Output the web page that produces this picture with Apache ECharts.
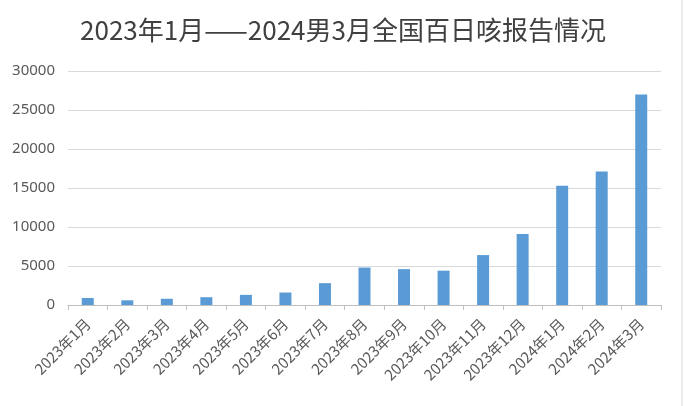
<!DOCTYPE html>
<html>
<head>
<meta charset="utf-8">
<script src="https://cdn.jsdelivr.net/npm/echarts@6/dist/echarts.min.js"></script>
<style>
  html, body { margin: 0; padding: 0; background: #fff; }
  #chart { width: 686px; height: 406px; }
</style>
</head>
<body>
<div id="chart"></div>
<script>
// 月份
var months = ['2023年1月', '2023年2月', '2023年3月', '2023年4月', '2023年5月', '2023年6月',
  '2023年7月', '2023年8月', '2023年9月', '2023年10月', '2023年11月', '2023年12月',
  '2024年1月', '2024年2月', '2024年3月'];
// 报告病例数
var cases = [900, 600, 800, 1000, 1300, 1600, 2800, 4800, 4600, 4400, 6400, 9100, 15300, 17100, 27000];
var yTicks = [0, 5000, 10000, 15000, 20000, 25000, 30000];

var myChart = echarts.init(document.getElementById('chart'));
var option = {
  animation: false,
  title: {
    text: '2023年1月——2024男3月全国百日咳报告情况',
    left: 'center',
    top: 12,
    textStyle: {
      fontFamily: 'Noto Sans CJK SC',
      fontSize: 26,
      fontWeight: 'normal',
      color: '#404040'
    }
  },
  grid: { left: 68, right: 25, top: 71, bottom: 101 },
  xAxis: {
    type: 'category',
    data: months,
    axisLine: { lineStyle: { color: '#bfbfbf' } },
    axisTick: { show: true, lineStyle: { color: '#bfbfbf' }, length: 5 },
    axisLabel: {
      rotate: 45,
      interval: 0,
      margin: 16,
      color: '#595959',
      fontSize: 15,
      fontFamily: 'Noto Sans CJK SC'
    }
  },
  yAxis: {
    type: 'value',
    min: yTicks[0],
    max: yTicks[yTicks.length - 1],
    interval: 5000,
    axisLine: { show: false },
    axisTick: { show: false },
    splitLine: { lineStyle: { color: '#d9d9d9', width: 1 } },
    axisLabel: {
      margin: 13,
      color: '#595959',
      fontSize: 15,
      fontFamily: 'Noto Sans',
      formatter: function (v) { return String(v); }
    }
  },
  graphic: [{
    type: 'line',
    shape: { x1: 682, y1: 0, x2: 682, y2: 406 },
    style: { stroke: '#d9d9d9', lineWidth: 1 }
  }],
  series: [{
    type: 'bar',
    data: cases,
    barWidth: 12,
    itemStyle: { color: '#5b9bd5' }
  }]
};
myChart.setOption(option);
</script>
</body>
</html>
